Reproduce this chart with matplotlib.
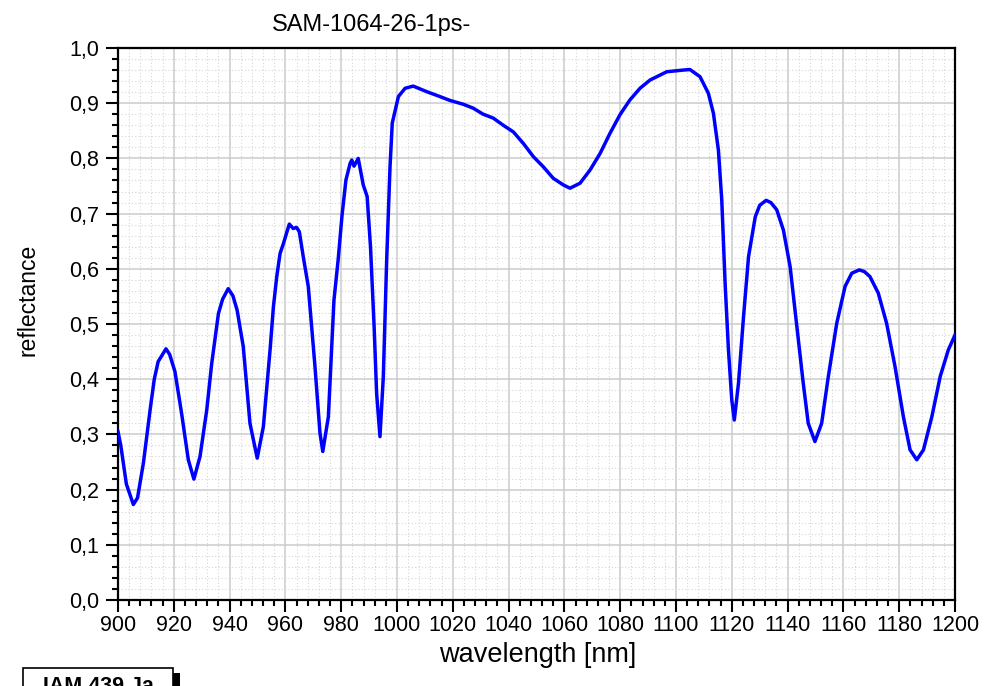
import matplotlib
matplotlib.use("Agg")

import matplotlib.pyplot as plt
from matplotlib.patches import Rectangle
from matplotlib.ticker import MultipleLocator, FuncFormatter

plt.rcParams["font.family"] = ["Liberation Sans", "DejaVu Sans"]

wavelength = [
    900, 901, 903, 905.5, 907, 909.1, 911.5, 913, 914.4, 916, 917.2, 918.5,
    920.4, 922.8, 925.2, 927.2, 929.4, 931.8, 933.6, 936, 937.5, 939.5,
    941.2, 942.7, 944.9, 947.3, 949.9, 952.1, 954.5, 955.7, 956.9, 958.1,
    959.3, 961.4, 962.8, 964, 965, 966.4, 968.2, 970.6, 972.4, 973.4, 975.4,
    977.4, 978.9, 980.3, 981.7, 983.2, 983.8, 984.6, 986.1, 987.9, 989.3,
    990.5, 991.8, 992.7, 993.9, 995.1, 996.3, 997.5, 998.3, 1000.5, 1002.9,
    1005.8, 1010.6, 1015.4, 1019, 1023.8, 1027.3, 1030.9, 1034.5, 1038.1,
    1041.7, 1045.3, 1048.9, 1052.4, 1056, 1059.6, 1062, 1065.6, 1069.2,
    1072.8, 1076.3, 1079.9, 1083.5, 1087.1, 1090.7, 1096.7, 1102.6, 1105,
    1108.6, 1111.6, 1113.4, 1115.2, 1116.4, 1117.6, 1118.8, 1120, 1120.9,
    1122.4, 1124.2, 1126, 1128.4, 1130, 1132.3, 1134, 1136.1, 1138.5,
    1140.9, 1143.2, 1145.6, 1147.4, 1149.8, 1152.2, 1154.6, 1157.6, 1160.6,
    1163, 1165.7, 1167.5, 1169.5, 1172.5, 1175.5, 1178.5, 1181.5, 1183.9,
    1186.3, 1188.7, 1191.7, 1194.7, 1197.6, 1200,
]
reflectance = [
    0.305, 0.28, 0.21, 0.173, 0.185, 0.248, 0.344, 0.40, 0.432, 0.445, 0.455, 0.445,
    0.414, 0.338, 0.254, 0.219, 0.260, 0.344, 0.429, 0.519, 0.545, 0.564,
    0.551, 0.525, 0.459, 0.320, 0.257, 0.314, 0.453, 0.531, 0.586, 0.628,
    0.646, 0.681, 0.673, 0.675, 0.667, 0.622, 0.568, 0.423, 0.302, 0.269, 0.332,
    0.543, 0.616, 0.697, 0.761, 0.791, 0.797, 0.786, 0.800, 0.752, 0.731,
    0.640, 0.495, 0.374, 0.296, 0.405, 0.616, 0.785, 0.864, 0.912, 0.927,
    0.931, 0.921, 0.912, 0.905, 0.898, 0.891, 0.880, 0.873, 0.860,
    0.848, 0.827, 0.803, 0.785, 0.764, 0.752, 0.746, 0.755, 0.779,
    0.809, 0.845, 0.879, 0.906, 0.927, 0.942, 0.957, 0.960, 0.961,
    0.948, 0.918, 0.882, 0.815, 0.725, 0.574, 0.453, 0.362, 0.326,
    0.393, 0.513, 0.622, 0.694, 0.715, 0.724, 0.720, 0.707, 0.670,
    0.604, 0.501, 0.393, 0.320, 0.287, 0.320, 0.405, 0.501, 0.568,
    0.592, 0.598, 0.595, 0.586, 0.556, 0.501, 0.423, 0.332, 0.272,
    0.254, 0.272, 0.332, 0.405, 0.453, 0.480,
]

fig = plt.figure(figsize=(9.87, 6.86), dpi=100)
ax = fig.add_axes([118 / 987, 86 / 686, 837 / 987, 552 / 686])

ax.plot(wavelength, reflectance, color="#0000ff", linewidth=2.5,
        solid_joinstyle="round", zorder=3)

ax.set_xlim(900, 1200)
ax.set_ylim(0, 1.0)

ax.xaxis.set_major_locator(MultipleLocator(20))
ax.xaxis.set_minor_locator(MultipleLocator(4))
ax.yaxis.set_major_locator(MultipleLocator(0.1))
ax.yaxis.set_minor_locator(MultipleLocator(0.02))
ax.yaxis.set_major_formatter(FuncFormatter(lambda v, p: f"{v:.1f}".replace(".", ",")))

# Grid: solid major lines, dotted minor lines
ax.grid(True, which="major", color="#cccccc", linewidth=1.1, linestyle="-", zorder=0)
ax.grid(True, which="minor", color="#d6d6d6", linewidth=0.8, linestyle=(0, (1, 2)), zorder=0)
ax.set_axisbelow(True)

for side in ["left", "bottom", "top", "right"]:
    ax.spines[side].set_linewidth(1.6)

ax.tick_params(which="major", direction="out", length=8.5, width=1.5,
               labelsize=15.5, top=False, right=False)
ax.tick_params(which="minor", direction="out", length=4.5, width=1.5,
               top=False, right=False)
ax.tick_params(axis="x", which="major", pad=2)
ax.tick_params(axis="y", which="major", pad=5)

# Axis labels placed as in the original
fig.text(538 / 987, 1 - 655 / 686, "wavelength [nm]", fontsize=19.5,
         ha="center", va="center")
fig.text(28 / 987, 1 - 300 / 686, "reflectance", fontsize=16.5,
         rotation=90, ha="center", va="center")

# Title text, placed left of centre as in the original
fig.text(272 / 987, 1 - 25 / 686, "SAM-1064-26-1ps-", fontsize=17,
         ha="left", va="center")

# Stamp box at bottom-left, with drop shadow, cut off by the figure edge
fig.patches.append(Rectangle((29 / 987, -0.05), 151 / 987, (0.05 + 13 / 686),
                             transform=fig.transFigure, facecolor="black",
                             edgecolor="none", zorder=1))
fig.patches.append(Rectangle((23 / 987, -0.05), 150 / 987, (0.05 + 18 / 686),
                             transform=fig.transFigure, facecolor="white",
                             edgecolor="black", linewidth=1.2, zorder=2))
fig.text(98 / 987, 1 - 676 / 686, "IAM 439 Ja", fontsize=15.5, fontweight="bold",
         ha="center", va="top", zorder=3)

fig.savefig("out.png", dpi=100)
plt.close(fig)
